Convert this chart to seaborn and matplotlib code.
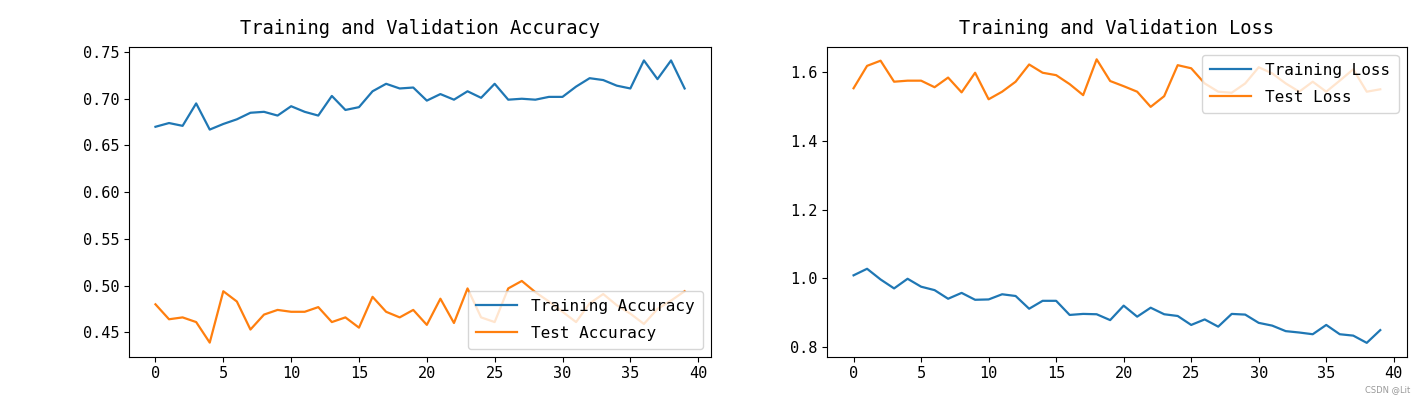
import numpy as np
import pandas as pd
import matplotlib
matplotlib.use("Agg")
import matplotlib.pyplot as plt
import seaborn as sns

epochs = list(range(40))

train_acc = [0.670, 0.674, 0.671, 0.695, 0.667, 0.673, 0.678, 0.685, 0.686, 0.682,
             0.692, 0.686, 0.682, 0.703, 0.688, 0.691, 0.708, 0.716, 0.711, 0.712,
             0.698, 0.705, 0.699, 0.708, 0.701, 0.716, 0.699, 0.700, 0.699, 0.702,
             0.702, 0.713, 0.722, 0.720, 0.714, 0.711, 0.741, 0.721, 0.741, 0.711]
test_acc = [0.480, 0.464, 0.466, 0.461, 0.439, 0.494, 0.483, 0.453, 0.469, 0.474,
            0.472, 0.472, 0.477, 0.461, 0.466, 0.455, 0.488, 0.472, 0.466, 0.474,
            0.458, 0.486, 0.460, 0.497, 0.466, 0.461, 0.497, 0.505, 0.493, 0.483,
            0.472, 0.461, 0.481, 0.491, 0.479, 0.470, 0.459, 0.475, 0.484, 0.494]
train_loss = [1.009, 1.028, 0.997, 0.971, 0.999, 0.976, 0.966, 0.941, 0.958, 0.938,
              0.939, 0.954, 0.949, 0.912, 0.935, 0.935, 0.894, 0.897, 0.896, 0.879,
              0.921, 0.889, 0.915, 0.896, 0.891, 0.865, 0.881, 0.860, 0.897, 0.895,
              0.871, 0.863, 0.847, 0.843, 0.838, 0.865, 0.838, 0.834, 0.813, 0.850]
test_loss = [1.552, 1.617, 1.632, 1.571, 1.574, 1.574, 1.555, 1.583, 1.540, 1.597,
             1.520, 1.542, 1.571, 1.621, 1.597, 1.590, 1.564, 1.532, 1.636, 1.573,
             1.558, 1.542, 1.498, 1.529, 1.619, 1.610, 1.566, 1.542, 1.539, 1.566,
             1.613, 1.595, 1.566, 1.542, 1.571, 1.542, 1.574, 1.607, 1.542, 1.549]

acc_labels = ["Training Accuracy", "Test Accuracy"]
loss_labels = ["Training Loss", "Test Loss"]
titles = ["Training and Validation Accuracy", "Training and Validation Loss"]

acc_df = pd.DataFrame({
    "epoch": epochs * 2,
    "value": train_acc + test_acc,
    "series": [acc_labels[0]] * 40 + [acc_labels[1]] * 40,
})
loss_df = pd.DataFrame({
    "epoch": epochs * 2,
    "value": train_loss + test_loss,
    "series": [loss_labels[0]] * 40 + [loss_labels[1]] * 40,
})

plt.rcParams['font.family'] = ['DejaVu Sans Mono', 'DejaVu Sans']
palette = ["#1f77b4", "#ff7f0e"]

fig = plt.figure(figsize=(14.27, 4.04), dpi=100)
ax1 = fig.add_axes([0.0904, 0.117, 0.4079, 0.7674])
ax2 = fig.add_axes([0.5797, 0.117, 0.4060, 0.7674])

sns.lineplot(data=acc_df, x="epoch", y="value", hue="series", palette=palette,
             ax=ax1, linewidth=1.6)
sns.lineplot(data=loss_df, x="epoch", y="value", hue="series", palette=palette,
             ax=ax2, linewidth=1.6)

for ax, title, loc in [(ax1, titles[0], "lower right"), (ax2, titles[1], "upper right")]:
    ax.set_title(title, fontsize=13.5, pad=9)
    ax.set_xlabel("")
    ax.set_ylabel("")
    ax.tick_params(labelsize=11)
    ax.set_xticks([0, 5, 10, 15, 20, 25, 30, 35, 40])
    ax.legend(loc=loc, fontsize=11.5, handlelength=2.6, labelspacing=0.75,
              handletextpad=0.9, borderpad=0.5)

ax1.set_xlim(-1.95, 40.95)
ax2.set_xlim(-1.95, 40.95)
ax1.set_yticks([0.45, 0.50, 0.55, 0.60, 0.65, 0.70, 0.75])
ax1.set_ylim(0.4239, 0.7557)
ax2.set_yticks([0.8, 1.0, 1.2, 1.4, 1.6])
ax2.set_ylim(0.7727, 1.6726)

fig.text(0.988, 0.025, "CSDN @Lit", fontsize=6, color="#999999", ha="right",
         va="bottom", family=["DejaVu Sans"])

fig.savefig("out.png", dpi=100)
